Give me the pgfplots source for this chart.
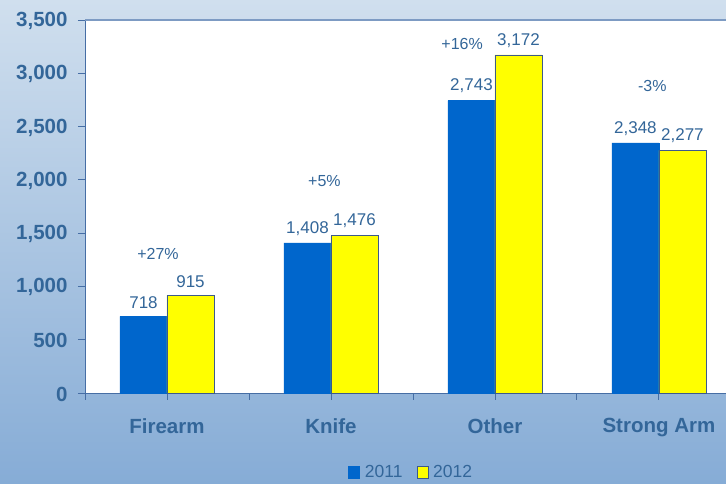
\documentclass[border=0pt]{standalone}
\usepackage{pgfplots}
\pgfplotsset{compat=1.18}
\usepackage{fontspec}
\setmainfont{Liberation Sans}
\definecolor{txt}{RGB}{51,102,153}
\definecolor{bblue}{RGB}{0,102,204}
\definecolor{byellow}{RGB}{255,255,0}
\definecolor{bgtop}{RGB}{208,223,238}
\definecolor{bgbot}{RGB}{134,172,214}
\definecolor{axl}{RGB}{70,110,165}
\definecolor{topl}{RGB}{125,155,195}
\definecolor{ybord}{RGB}{60,90,140}
\begin{document}
\begin{tikzpicture}
\useasboundingbox (0,0) rectangle (726pt,484pt);
\shade[top color=bgtop, bottom color=bgbot] (0,0) rectangle (726pt,484pt);
\begin{axis}[
  at={(85pt,91pt)}, anchor=south west,
  scale only axis, width=641pt, height=373pt,
  xmin=-0.5, xmax=3.409, ymin=0, ymax=3500,
  clip=false,
  axis background/.style={fill=white},
  ybar=0pt, bar width=47pt,
  axis x line*=bottom, axis y line*=left,
  axis line style={axl, line width=0.8pt},
  xtick align=outside, ytick align=outside, major tick length=7pt,
  xtick={-0.5,0.5,1.5,2.5}, xticklabels={},
  x tick style={draw=axl, line width=0.9pt},
  extra x ticks={0,1,2,3}, extra x tick labels={Firearm,Knife,Other,Strong Arm},
  extra x tick style={tick style={draw=none}},
  ytick={0,500,...,3500},
  y tick style={draw=axl, line width=0.9pt},
  scaled y ticks=false,
  yticklabel style={/pgf/number format/1000 sep={,}, /pgf/number format/assume math mode=true,
     font=\fontsize{20.5}{24}\selectfont\bfseries, text=txt, xshift=-7pt, yshift=-1pt},
  xticklabel style={font=\fontsize{20.5}{24}\selectfont\bfseries, text=txt, yshift=-15pt},
  nodes near coords={\pgfmathprintnumber[1000 sep={,}, assume math mode=true]{\pgfplotspointmeta}},
  nodes near coords style={font=\fontsize{17}{20}\selectfont, text=txt, anchor=south, yshift=4pt},
  legend style={at={(0.509,-0.212)}, anchor=center, draw=none, fill=none,
     font=\fontsize{17.5}{20}\selectfont, text=txt,
     /tikz/every odd column/.append style={column sep=3pt},
     /tikz/every even column/.append style={column sep=12pt}},
  legend columns=2,
  legend image code/.code={\draw[#1, bar width=0pt, bar shift=0pt] (0pt,-6pt) rectangle (11pt,6pt);},
]
\addplot[fill=bblue, draw=bblue] coordinates {(0,718) (1,1408) (2,2743) (3,2348)};
\addplot[fill=byellow, draw=ybord, line width=0.6pt] coordinates {(0,915) (1,1476) (2,3172) (3,2277)};
\legend{2011,2012}
\draw[topl, line width=2.5pt] (rel axis cs:0,1) -- (rel axis cs:1,1);
\pgfplotsinvokeforeach{0,500,1000,1500,2000,2500,3000,3500}{
  \draw[axl, line width=0.9pt] (axis cs:-0.5,#1) -- ++(-7pt,0pt);
}
\node[font=\fontsize{16}{18}\selectfont, text=txt] at (axis cs:-0.055,1304) {+27\%};
\node[font=\fontsize{16}{18}\selectfont, text=txt] at (axis cs:0.96,1989) {+5\%};
\node[font=\fontsize{16}{18}\selectfont, text=txt] at (axis cs:1.80,3274) {+16\%};
\node[font=\fontsize{16}{18}\selectfont, text=txt] at (axis cs:2.96,2880) {-3\%};
\end{axis}
\end{tikzpicture}
\end{document}
